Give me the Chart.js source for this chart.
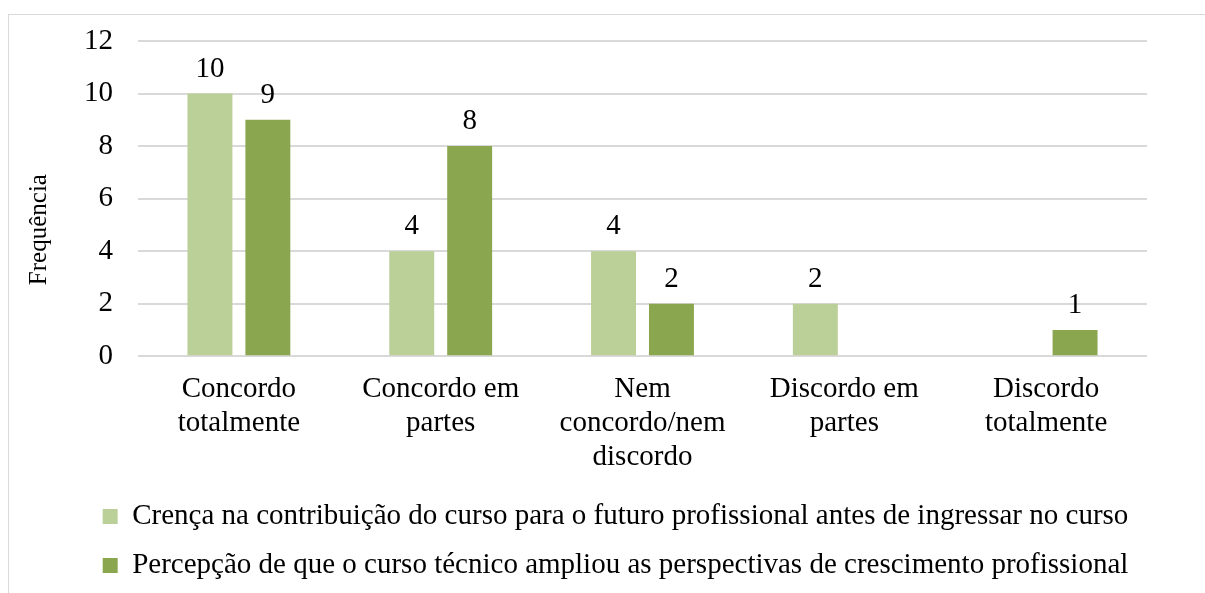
<!DOCTYPE html>
<html>
<head>
<meta charset="utf-8">
<script src="https://cdn.jsdelivr.net/npm/chart.js@4"></script>
<style>
  body { margin: 0; background: #fff; }
  #frame { position: absolute; left: 8px; top: 14px; width: 1300px; height: 700px; border: 1px solid #d9d9d9; }
  #wrap { position: absolute; left: 0; top: 0; width: 1196px; height: 578px; }
</style>
</head>
<body>
<div id="frame"><div id="wrap"><canvas id="chart"></canvas></div></div>
<script>
// categories and series
const categories = [
    ["Concordo", "totalmente"],
    ["Concordo em", "partes"],
    ["Nem", "concordo/nem", "discordo"],
    ["Discordo em", "partes"],
    ["Discordo", "totalmente"]
];
const crencaValues = [10, 4, 4, 2, null];
const percepcaoValues = [9, 8, 2, null, 1];
const seriesNames = [
    "Crença na contribuição do curso para o futuro profissional antes de ingressar no curso",
    "Percepção de que o curso técnico ampliou as perspectivas de crescimento profissional"
];
const yTicks = [0, 2, 4, 6, 8, 10, 12];
const yTitle = "Frequência";

const fontFamily = "'Liberation Serif', 'Times New Roman', serif";

// value labels above bars + y axis title (placed a bit below the plot centre, like the original)
const extras = {
    id: 'extras',
    afterDatasetsDraw(chart) {
        const ctx = chart.ctx;
        const area = chart.chartArea;
        ctx.save();
        ctx.font = "29px " + fontFamily;
        ctx.fillStyle = "#000";
        ctx.textAlign = "center";
        ctx.textBaseline = "alphabetic";
        chart.data.datasets.forEach((ds, i) => {
            chart.getDatasetMeta(i).data.forEach((bar, j) => {
                const v = ds.data[j];
                if (v === null) return;
                ctx.fillText(String(v), bar.x, bar.y - 17);
            });
        });
        ctx.translate(area.left - 99, (area.top + area.bottom) / 2 + 31);
        ctx.rotate(-Math.PI / 2);
        ctx.font = "25px " + fontFamily;
        ctx.textBaseline = "middle";
        ctx.fillText(yTitle, 0, 0);
        ctx.restore();
    }
};

new Chart(document.getElementById('chart'), {
    type: 'bar',
    data: {
        labels: categories,
        datasets: [
            {
                label: seriesNames[0],
                data: crencaValues,
                backgroundColor: "#bbcf98"
            },
            {
                label: seriesNames[1],
                data: percepcaoValues,
                backgroundColor: "#8aa74f"
            }
        ]
    },
    options: {
        responsive: true,
        maintainAspectRatio: false,
        animation: false,
        categoryPercentage: 0.574,
        barPercentage: 0.776,
        layout: { padding: { left: 75, right: 58, top: 0, bottom: 3 } },
        plugins: {
            legend: {
                position: 'bottom',
                labels: {
                    color: "#000",
                    font: { family: fontFamily, size: 29 },
                    boxWidth: 15,
                    boxHeight: 15,
                    padding: 20
                }
            },
            tooltip: { enabled: false }
        },
        scales: {
            x: {
                grid: { display: false },
                border: { display: false },
                ticks: {
                    color: "#000",
                    font: { family: fontFamily, size: 29, lineHeight: 1.17 },
                    maxRotation: 0,
                    padding: 8
                }
            },
            y: {
                min: 0,
                max: 12,
                afterBuildTicks(axis) {
                    axis.ticks = yTicks.map(v => ({ value: v }));
                },
                afterFit(axis) {
                    // keep the top gridline close to the frame like the original
                    axis.paddingTop = 26;
                    axis.paddingBottom = 0;
                    axis.width = 54;
                },
                grid: { color: "#d9d9d9", lineWidth: 2, drawTicks: false },
                border: { display: false },
                ticks: {
                    color: "#000",
                    font: { family: fontFamily, size: 29 },
                    padding: 25
                }
            }
        }
    },
    plugins: [extras]
});
</script>
</body>
</html>
